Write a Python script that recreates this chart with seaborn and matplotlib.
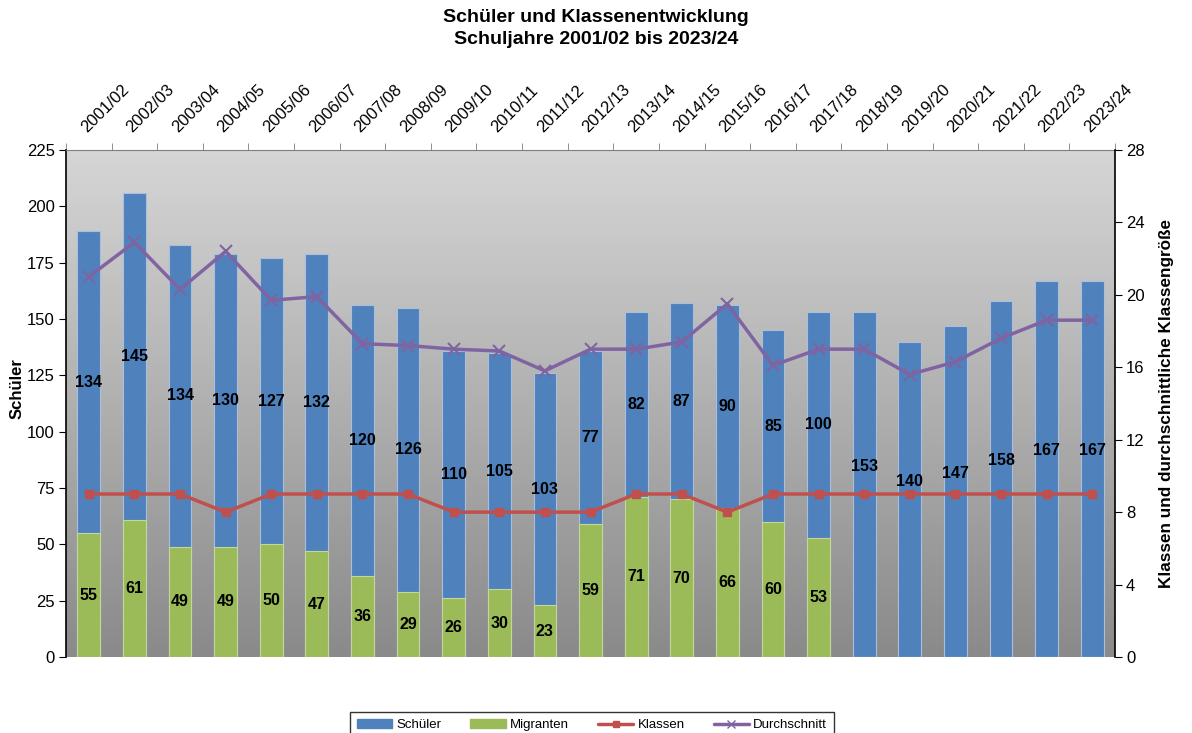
import numpy as np
import pandas as pd
import matplotlib
matplotlib.use('Agg')
import matplotlib.pyplot as plt
import seaborn as sns
from matplotlib.lines import Line2D
from matplotlib.patches import Patch

jahre = ['2001/02', '2002/03', '2003/04', '2004/05', '2005/06', '2006/07', '2007/08',
         '2008/09', '2009/10', '2010/11', '2011/12', '2012/13', '2013/14', '2014/15',
         '2015/16', '2016/17', '2017/18', '2018/19', '2019/20', '2020/21', '2021/22',
         '2022/23', '2023/24']
schueler = [189, 206, 183, 179, 177, 179, 156, 155, 136, 135, 126, 136, 153, 157,
            156, 145, 153, 153, 140, 147, 158, 167, 167]
migranten = [55, 61, 49, 49, 50, 47, 36, 29, 26, 30, 23, 59, 71, 70,
             66, 60, 53, 0, 0, 0, 0, 0, 0]
klassen = [9, 9, 9, 8, 9, 9, 9, 9, 8, 8, 8, 8, 9, 9, 8, 9, 9, 9, 9, 9, 9, 9, 9]
durchschnitt = [21.0, 22.9, 20.3, 22.4, 19.7, 19.9, 17.3, 17.2, 17.0, 16.9, 15.8, 17.0,
                17.0, 17.4, 19.5, 16.1, 17.0, 17.0, 15.6, 16.3, 17.6, 18.6, 18.6]

df = pd.DataFrame({'jahr': jahre, 'schueler': schueler, 'migranten': migranten,
                   'klassen': klassen, 'durchschnitt': durchschnitt})

blau = '#4f81bd'
gruen = '#9bbb59'
rot = '#c0504d'
lila = '#8064a2'

sns.set_style('white')
plt.rcParams['font.family'] = ['Liberation Sans', 'DejaVu Sans']
plt.rcParams['text.color'] = 'black'
plt.rcParams['axes.labelcolor'] = 'black'
plt.rcParams['xtick.color'] = 'black'
plt.rcParams['ytick.color'] = 'black'

fig = plt.figure(figsize=(11.92, 7.33), dpi=100)
ax = fig.add_axes([0.0554, 0.1037, 0.88, 0.6917])
n = len(jahre)

# Hintergrund-Verlauf
grad = np.linspace(0, 1, 256).reshape(-1, 1)
ax.imshow(grad, cmap=matplotlib.colors.LinearSegmentedColormap.from_list('g', ['#8a8a8a', '#d6d6d6']),
          extent=[-0.5, n - 0.5, 0, 225], origin='lower', aspect='auto', zorder=0)

sns.barplot(data=df, x='jahr', y='schueler', color=blau, width=0.5, saturation=1,
            edgecolor='#a9bfdc', linewidth=0.8, ax=ax, zorder=2)
sns.barplot(data=df, x='jahr', y='migranten', color=gruen, width=0.5, saturation=1,
            edgecolor='#c3d69b', linewidth=0.8, ax=ax, zorder=3)

ax.set_xlim(-0.5, n - 0.5)
ax.set_ylim(0, 225)
ax.set_yticks(range(0, 226, 25))
ax.set_ylabel('Schüler', fontsize=12, fontweight='bold', labelpad=2, y=0.53)
ax.set_xlabel('')

ax.xaxis.tick_top()
ax.set_xticks(range(n))
ax.set_xticklabels(jahre, rotation=45, ha='left', va='bottom', rotation_mode='anchor', fontsize=12)
ax.set_xticks(np.arange(-0.5, n, 1), minor=True)
ax.tick_params(axis='x', which='major', length=0, pad=11)
ax.tick_params(axis='x', which='minor', length=5, color='#808080', direction='out', top=True)
ax.tick_params(axis='y', length=5, direction='out', labelsize=12, left=True, color='black', pad=3)

ax.spines['top'].set_color('#808080')
ax.spines['left'].set_color('black')
ax.spines['left'].set_linewidth(1.2)
ax.spines['bottom'].set_visible(False)
ax.spines['right'].set_visible(False)

ax2 = ax.twinx()
ax2.plot(range(n), df.klassen, color=rot, linewidth=2.5, marker='s', markersize=6, zorder=4)
ax2.plot(range(n), df.durchschnitt, color=lila, linewidth=2.5, marker='x', markersize=8,
         markeredgewidth=1.5, zorder=4)
ax2.set_ylim(0, 28)
ax2.set_yticks(range(0, 29, 4))
ax2.tick_params(axis='y', length=5, direction='out', labelsize=12, right=True, color='black', pad=3)
ax2.set_ylabel('Klassen und durchschnittliche Klassengröße', fontsize=12.3, fontweight='bold', labelpad=10)
for s in ['top', 'bottom', 'left']:
    ax2.spines[s].set_visible(False)
ax2.spines['right'].set_color('black')
ax2.spines['right'].set_linewidth(1.2)

# Datenbeschriftungen (ueber den Linien)
for i in range(n):
    rest = df.schueler[i] - df.migranten[i]
    y = df.migranten[i] + rest / 2
    if df.migranten[i] == 0:
        y += 8
    ax2.text(i, y, str(rest), ha='center', va='center', transform=ax.transData,
             fontsize=11.5, fontweight='bold', zorder=6)
    if df.migranten[i] > 0:
        ax2.text(i, df.migranten[i] / 2, str(df.migranten[i]), ha='center', va='center',
                 transform=ax.transData, fontsize=11.5, fontweight='bold', zorder=6)

fig.text(0.5, 0.988, 'Schüler und Klassenentwicklung\nSchuljahre 2001/02 bis 2023/24',
         ha='center', va='top', fontsize=14, fontweight='bold', linespacing=1.4)

handles = [Patch(color=blau), Patch(color=gruen),
           Line2D([], [], color=rot, linewidth=2.5, marker='s', markersize=5),
           Line2D([], [], color=lila, linewidth=2.5, marker='x', markersize=6)]
leg = fig.legend(handles, ['Schüler', 'Migranten', 'Klassen', 'Durchschnitt'],
                 loc='upper center', bbox_to_anchor=(0.4965, 0.037), ncol=4, fontsize=9.5,
                 frameon=True, fancybox=False, edgecolor='black', handlelength=2.7,
                 handleheight=0.6, handletextpad=0.3, columnspacing=2.2, borderpad=0.5)
leg.get_frame().set_linewidth(1.0)

plt.savefig('out.png', dpi=100)
